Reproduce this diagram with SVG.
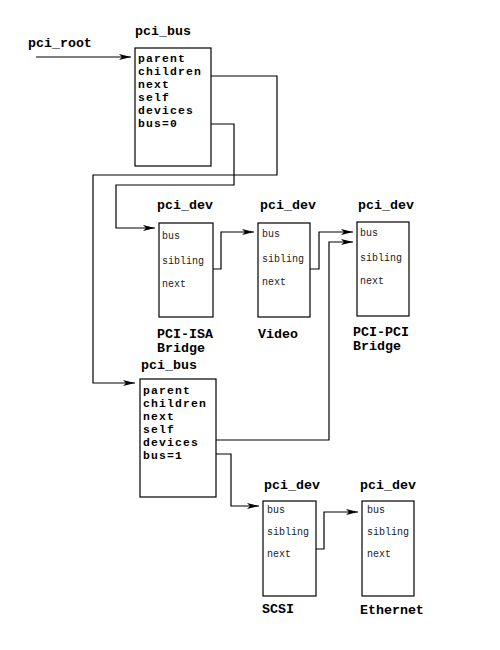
<svg xmlns="http://www.w3.org/2000/svg" width="500" height="650" viewBox="0 0 500 650">
<defs>
<marker id="arr" markerUnits="userSpaceOnUse" markerWidth="13" markerHeight="8" refX="12" refY="3" orient="auto">
<path d="M0,0 L12,3 L0,6 L3,3 z" fill="#000"/>
</marker>
<style>
.box{fill:#fff;stroke:#000;stroke-width:1.2}
.b{font-family:"Liberation Mono","DejaVu Sans Mono",monospace;font-weight:bold;font-size:13.3px;fill:#000}
.f{font-family:"Liberation Mono","DejaVu Sans Mono",monospace;font-weight:bold;font-size:11.4px;letter-spacing:1.15px;fill:#000}
.s{font-family:"Liberation Mono","DejaVu Sans Mono",monospace;font-size:10px;fill:#222}
.c{fill:none;stroke:#000;stroke-width:1.2}
</style>
</defs>
<rect width="500" height="650" fill="#fff"/>
<text class="b" x="28" y="47">pci_root</text>

<g id="bus0">
<text class="b" x="135" y="35">pci_bus</text>
<rect class="box" x="135" y="48" width="76" height="118"/>
<text class="f" x="138" y="62">parent</text>
<text class="f" x="138" y="75">children</text>
<text class="f" x="138" y="88">next</text>
<text class="f" x="138" y="101">self</text>
<text class="f" x="138" y="114">devices</text>
<text class="f" x="138" y="127">bus=0</text>
</g>

<g id="dev-isa">
<text class="b" x="157" y="209">pci_dev</text>
<rect class="box" x="159" y="223" width="54" height="94"/>
<text class="s" x="162" y="239">bus</text>
<text class="s" x="162" y="264">sibling</text>
<text class="s" x="162" y="287">next</text>
<text class="b" x="157" y="338">PCI-ISA</text>
<text class="b" x="157" y="352">Bridge</text>
</g>

<g id="dev-video">
<text class="b" x="260" y="209">pci_dev</text>
<rect class="box" x="258" y="223" width="52" height="94"/>
<text class="s" x="262" y="237">bus</text>
<text class="s" x="262" y="262">sibling</text>
<text class="s" x="262" y="285">next</text>
<text class="b" x="258" y="338">Video</text>
</g>

<g id="dev-pcipci">
<text class="b" x="358" y="209">pci_dev</text>
<rect class="box" x="357" y="222" width="52" height="94"/>
<text class="s" x="360" y="236">bus</text>
<text class="s" x="360" y="261">sibling</text>
<text class="s" x="360" y="284">next</text>
<text class="b" x="353" y="336">PCI-PCI</text>
<text class="b" x="353" y="350">Bridge</text>
</g>

<g id="bus1">
<text class="b" x="141" y="369">pci_bus</text>
<rect class="box" x="140" y="379" width="76" height="118"/>
<text class="f" x="143" y="394">parent</text>
<text class="f" x="143" y="407">children</text>
<text class="f" x="143" y="420">next</text>
<text class="f" x="143" y="433">self</text>
<text class="f" x="143" y="446">devices</text>
<text class="f" x="143" y="459">bus=1</text>
</g>

<g id="dev-scsi">
<text class="b" x="264" y="489">pci_dev</text>
<rect class="box" x="263" y="501" width="53" height="95"/>
<text class="s" x="267" y="513">bus</text>
<text class="s" x="267" y="535">sibling</text>
<text class="s" x="267" y="557">next</text>
<text class="b" x="262" y="613">SCSI</text>
</g>

<g id="dev-eth">
<text class="b" x="360" y="489">pci_dev</text>
<rect class="box" x="362" y="501" width="52" height="95"/>
<text class="s" x="367" y="513">bus</text>
<text class="s" x="367" y="535">sibling</text>
<text class="s" x="367" y="557">next</text>
<text class="b" x="360" y="614">Ethernet</text>
</g>

<g id="connectors">
<path class="c" d="M36,57 H131" marker-end="url(#arr)"/>
<path class="c" d="M211,76 H277 V175 H93 V383 H135" marker-end="url(#arr)"/>
<path class="c" d="M211,124 H234 V185 H116 V228 H155" marker-end="url(#arr)"/>
<path class="c" d="M213,269 H221 V232 H254" marker-end="url(#arr)"/>
<path class="c" d="M310,269 H319 V232 H353" marker-end="url(#arr)"/>
<path class="c" d="M216,440 H329 V242 H353" marker-end="url(#arr)"/>
<path class="c" d="M216,454 H231 V506 H259" marker-end="url(#arr)"/>
<path class="c" d="M316,549 H324 V512 H358" marker-end="url(#arr)"/>
</g>
</svg>
